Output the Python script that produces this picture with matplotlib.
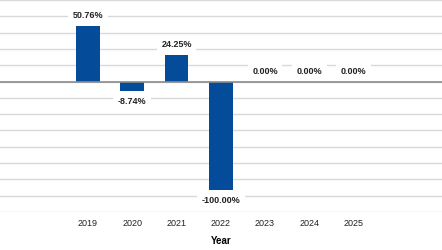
import numpy as np
import matplotlib.pyplot as plt

plt.rcParams['font.family'] = ['Liberation Sans', 'DejaVu Sans']

years = ['2019', '2020', '2021', '2022', '2023', '2024', '2025']
values = [50.76, -8.74, 24.25, -100.00, 0.00, 0.00, 0.00]

fig = plt.figure(figsize=(4.42, 2.5), dpi=100)
ax = fig.add_axes([0, 1 - 212 / 250, 1, 212 / 250])

x = np.arange(len(years))
ax.bar(x, values, width=0.54, color='#044c99', zorder=3)

ax.set_xlim(-1.99, 8.0)
ax.set_ylim(-120, 75)
ax.set_yticks(np.arange(-120, 76, 15))
ax.yaxis.grid(True, color='#d9d9d9', linewidth=1, zorder=0)
ax.axhline(0, color='#8c8c8c', linewidth=1.2, zorder=4)
for s in ax.spines.values():
    s.set_visible(False)
ax.tick_params(axis='y', left=False, labelleft=False)
ax.tick_params(axis='x', length=0, pad=5, labelsize=6.5, labelcolor='#222222')
ax.set_xticks(x)
ax.set_xticklabels(years)
ax.set_xlabel('Year', fontsize=7, fontweight='bold', labelpad=6)

for xi, v in zip(x, values):
    off = -7.5 if v < 0 else 7.5
    ax.annotate(f'{v:.2f}%', (xi, v), xytext=(0, off), textcoords='offset points',
                ha='center', va='center', fontsize=6.5, fontweight='bold',
                color='#222222', zorder=5,
                bbox=dict(boxstyle='square,pad=0.5', fc='white', ec='none'))

fig.savefig('out.png', dpi=100)
